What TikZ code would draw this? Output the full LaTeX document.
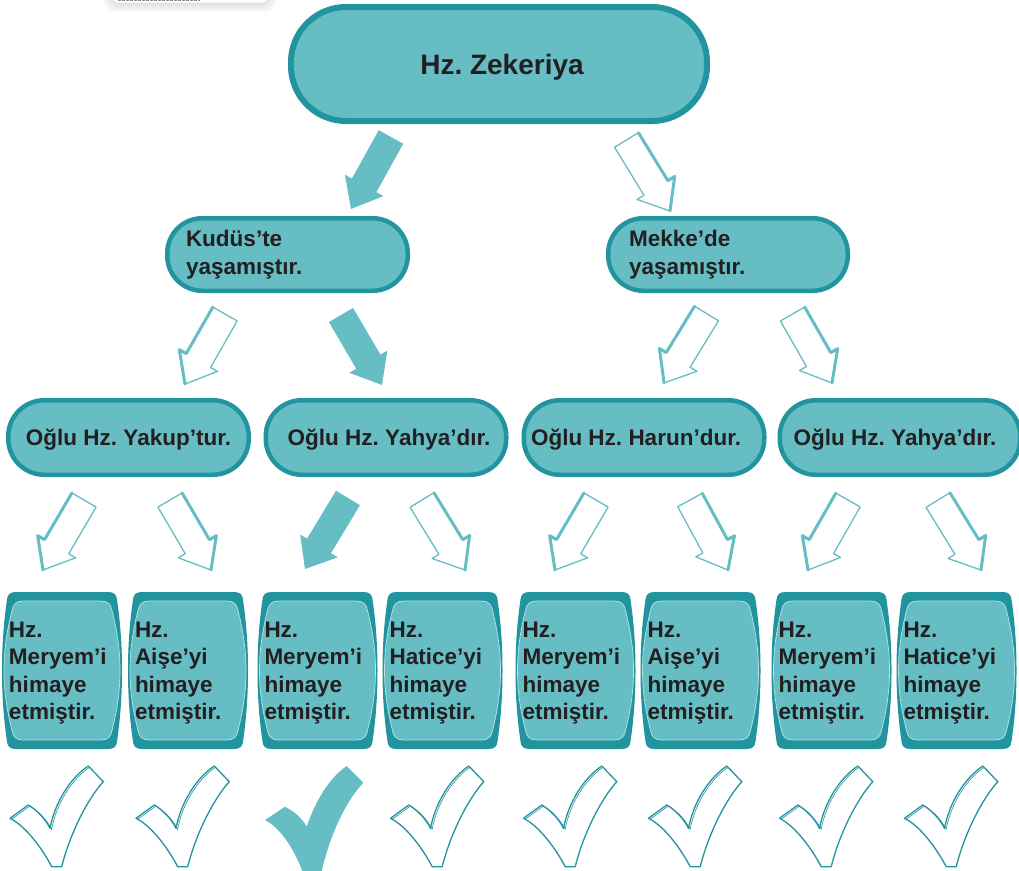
\documentclass[tikz,border=0pt]{standalone}
\usepackage{fontspec}
\setmainfont{Liberation Sans}
\frenchspacing
\definecolor{tfill}{HTML}{66BDC4}
\definecolor{tdark}{HTML}{2194A0}
\definecolor{thl}{HTML}{B8E3E6}
\definecolor{tink}{HTML}{231F20}
\newcommand\mfont{\fontsize{22.5}{27.4}\selectfont\bfseries\frenchspacing}
\newcommand\bigfont{\fontsize{28}{32}\selectfont\bfseries\frenchspacing}
\newdimen\baxa \newdimen\baya \newdimen\baxb \newdimen\bayb
\newcommand\arrowgeom[2]{%
  \pgfextractx{\baxa}{\pgfpointanchor{#1}{center}}%
  \pgfextracty{\baya}{\pgfpointanchor{#1}{center}}%
  \pgfextractx{\baxb}{\pgfpointanchor{#2}{center}}%
  \pgfextracty{\bayb}{\pgfpointanchor{#2}{center}}%
  \pgfmathsetmacro\baang{atan2(\bayb-\baya,\baxb-\baxa)}%
  \pgfmathsetmacro\balen{veclen(\baxb-\baxa,\bayb-\baya)}%
}
\newcommand\solidarrow[2]{%
  \arrowgeom{#1}{#2}%
  \begin{scope}[shift={(#1)},rotate=\baang]
    \fill[tfill] (0,-14) -- ({\balen-27},-14) -- ({\balen-27},-22) -- (\balen,0)
      -- ({\balen-27},22) -- ({\balen-27},14) -- (0,14) -- cycle;
  \end{scope}}
\newcommand\hollowarrow[3]{%
  \arrowgeom{#1}{#2}%
  \begin{scope}[shift={(#1)},rotate=\baang]
    \filldraw[fill=white,draw=tfill,line width=1.3pt,line join=round]
      (0,-14) -- ({\balen-27},-14) -- ({\balen-27},-22) -- (\balen,0)
      -- ({\balen-27},22) -- ({\balen-27},14) -- (0,14) -- cycle;
    \draw[tfill,line width=3pt,line join=round,line cap=round]
      (0,{#3*14}) -- ({\balen-27},{#3*14}) -- ({\balen-27},{#3*22}) -- (\balen,0);
  \end{scope}}
\tikzset{
  stad/.style={draw=tdark, fill=tfill, line width=4.5pt, outer sep=0pt, inner sep=0pt,
    text=tink, font=\mfont},
  sline/.style={text depth=0pt},
  glow/.style 2 args={append after command={\pgfextra{%
    \draw[thl, line width=0.8pt, rounded corners=#2]
      ([shift={(#1,-#1)}]\tikzlastnode.north west) rectangle
      ([shift={(-#1,#1)}]\tikzlastnode.south east);}}},
  btext/.style={text=tink, font=\mfont, align=left, text width=106pt, inner sep=0pt},
  chkline/.style={fill=white, draw=tdark, line width=1.3pt, line join=round},
  barrel/.pic={
    \fill[tdark] (-46,-78.5) -- (46,-78.5) .. controls (52,-78.5) and (54.5,-76) .. (55,-71)
      .. controls (58.8,-45) and (60,-22) .. (60,0) .. controls (60,22) and (58.8,45) .. (55,71)
      .. controls (54.5,76) and (52,78.5) .. (46,78.5) -- (-46,78.5)
      .. controls (-52,78.5) and (-54.5,76) .. (-55,71) .. controls (-58.8,45) and (-60,22) .. (-60,0)
      .. controls (-60,-22) and (-58.8,-45) .. (-55,-71) .. controls (-54.5,-76) and (-52,-78.5) .. (-46,-78.5) -- cycle;
    \filldraw[fill=tfill, draw=thl, line width=0.7pt] (-39,-69.5) -- (39,-69.5)
      .. controls (46,-69.5) and (49,-66) .. (50,-60) .. controls (55.5,-38) and (58,-20) .. (58,0)
      .. controls (58,20) and (55.5,38) .. (50,60) .. controls (49,66) and (46,69.5) .. (39,69.5)
      -- (-39,69.5) .. controls (-46,69.5) and (-49,66) .. (-50,60) .. controls (-55.5,38) and (-58,20) .. (-58,0)
      .. controls (-58,-20) and (-55.5,-38) .. (-50,-60) .. controls (-49,-66) and (-46,-69.5) .. (-39,-69.5) -- cycle;
    \node[btext] (-t) at (0,2.5) {#1};
  },
  chk/.pic={
    \path[chkline] (0,0) -- (18.3,-13.3) .. controls (27,-8) and (35,0) .. (40,10)
      .. controls (45,-16) and (60,-40) .. (78.3,-52.3) -- (93.3,-36.6)
      .. controls (78,-20) and (60,15) .. (51.7,48.4) -- (41.7,48.4)
      .. controls (32,30) and (16,8) .. (0,0) -- cycle;
    \draw[tdark, line width=0.6pt, shift={(1.6,1)}] (0,0) -- (18.3,-13.3) .. controls (27,-8) and (35,0) .. (40,10)
      .. controls (45,-16) and (60,-40) .. (78.3,-52.3);
  },
  chkf/.pic={
    \fill[tfill] (0,0) -- (20,-13.3) .. controls (30,-8) and (37,-2) .. (41.7,6.7)
      .. controls (50,-18) and (64,-42) .. (81.7,-54) -- (98.3,-37.3)
      .. controls (80,-18) and (62,20) .. (54,64) -- (42,64)
      .. controls (32,32) and (16,8) .. (0,0) -- cycle;
  },
}
\begin{document}
\begin{tikzpicture}[x=1pt,y=-1pt]
\useasboundingbox (0,0) rectangle (1019,870);
\clip (0,0) rectangle (1019,870);

% partial card at the top edge
\foreach \i in {1,...,8}
  \fill[black,opacity=0.015,rounded corners=10pt] ({112-\i},-20) rectangle ({268+\i},{2+1.3*\i});
\fill[white,rounded corners=6pt] (112,-20) rectangle (268,2.5);
\draw[black!45, line width=0.6pt, dash pattern=on 2.5pt off 1.5pt] (118,0.8) -- (200,0.8);

% level 1
\node[stad, sline, line width=6pt, minimum width=416pt, minimum height=114pt,
  rounded corners=55pt, font=\bigfont, glow={4.5pt}{50.5pt}] (z) at (499,64) {\kern6pt Hz. Zekeriya};

% level 2
\node[stad, glow={4.5pt}{30.5pt}, minimum width=240.5pt, minimum height=72.5pt,
  rounded corners=35pt, text width=203pt, align=left] (k) at (287.5,254.5) {Kudüs’te\\yaşamıştır.};
\node[stad, glow={4.5pt}{30.5pt}, minimum width=239.5pt, minimum height=72.5pt,
  rounded corners=35pt, text width=198pt, align=left] (m) at (728,254.5) {Mekke’de\\yaşamıştır.};

% level 3
\tikzset{l3/.style={stad, sline, glow={4.5pt}{31.5pt}, minimum width=240.5pt, minimum height=74.5pt, rounded corners=36pt}}
\node[l3] (o1) at (128.5,437.5) {Oğlu Hz. Yakup’tur.};
\node[l3] (o2) at (386,437.5) {\kern6pt Oğlu Hz. Yahya’dır.};
\node[l3] (o3) at (644,437.5) {\kern-16pt Oğlu Hz. Harun’dur.};
\node[l3] (o4) at (900,437.5) {\kern-10pt Oğlu Hz. Yahya’dır.};

% level 4
\pic (b1) at (62,670.5) {barrel={Hz.\\Meryem’i\\himaye\\etmiştir.}};
\pic (b2) at (188,670.5) {barrel={Hz.\\Aişe’yi\\himaye\\etmiştir.}};
\pic (b3) at (317.5,670.5) {barrel={Hz.\\Meryem’i\\himaye\\etmiştir.}};
\pic (b4) at (442.5,670.5) {barrel={Hz.\\Hatice’yi\\himaye\\etmiştir.}};
\pic (b5) at (575.5,670.5) {barrel={Hz.\\Meryem’i\\himaye\\etmiştir.}};
\pic (b6) at (700.5,670.5) {barrel={Hz.\\Aişe’yi\\himaye\\etmiştir.}};
\pic (b7) at (831.5,670.5) {barrel={Hz.\\Meryem’i\\himaye\\etmiştir.}};
\pic (b8) at (956.5,670.5) {barrel={Hz.\\Hatice’yi\\himaye\\etmiştir.}};

% arrow end points
\coordinate (a1t) at (391,137);   \coordinate (a1h) at (351,209);
\coordinate (a2t) at (626.5,140); \coordinate (a2h) at (670,211);
\coordinate (a3t) at (225,314);   \coordinate (a3h) at (185,384);
\coordinate (a4t) at (341,315);   \coordinate (a4h) at (382,385);
\coordinate (a5t) at (706.5,313.5); \coordinate (a5h) at (664,383);
\coordinate (a6t) at (792.5,314); \coordinate (a6h) at (832,383);
\coordinate (a7t) at (84,500);    \coordinate (a7h) at (43,570);
\coordinate (a8t) at (170,500);   \coordinate (a8h) at (211,570);
\coordinate (a9t) at (348,498);   \coordinate (a9h) at (305,569);
\coordinate (a10t) at (422,500);  \coordinate (a10h) at (465,570);
\coordinate (a11t) at (596,500);  \coordinate (a11h) at (555,570);
\coordinate (a12t) at (690,500);  \coordinate (a12h) at (728,570);
\coordinate (a13t) at (848,500);  \coordinate (a13h) at (808,570);
\coordinate (a14t) at (938,500);  \coordinate (a14h) at (981,570);

\solidarrow{a1t}{a1h}
\hollowarrow{a2t}{a2h}{-1}
\hollowarrow{a3t}{a3h}{1}
\solidarrow{a4t}{a4h}
\hollowarrow{a5t}{a5h}{1}
\hollowarrow{a6t}{a6h}{-1}
\hollowarrow{a7t}{a7h}{1}
\hollowarrow{a8t}{a8h}{-1}
\solidarrow{a9t}{a9h}
\hollowarrow{a10t}{a10h}{-1}
\hollowarrow{a11t}{a11h}{1}
\hollowarrow{a12t}{a12h}{-1}
\hollowarrow{a13t}{a13h}{1}
\hollowarrow{a14t}{a14h}{-1}

% check marks
\pic (c1) at (10,818.3) {chk};
\pic (c2) at (136,818.3) {chk};
\pic (c3) at (265,820) {chkf};
\pic (c4) at (390.5,818.3) {chk};
\pic (c5) at (523.5,818.3) {chk};
\pic (c6) at (648.5,818.3) {chk};
\pic (c7) at (779.5,818.3) {chk};
\pic (c8) at (904.5,818.3) {chk};
\end{tikzpicture}
\end{document}
